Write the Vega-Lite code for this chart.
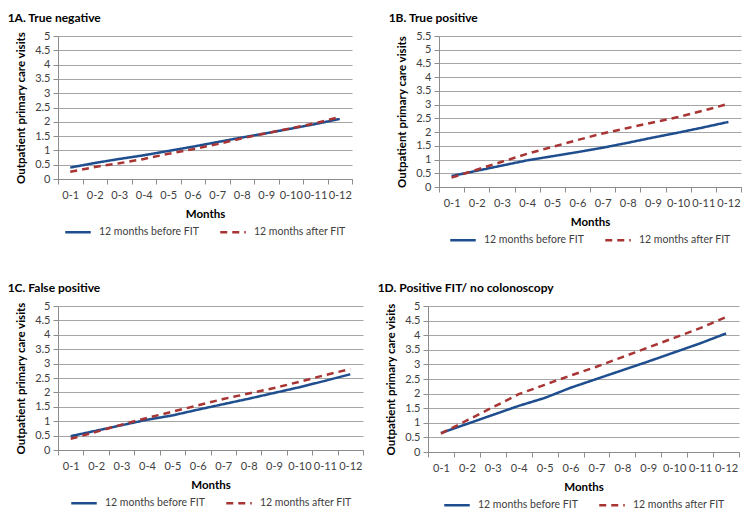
{
  "$schema": "https://vega.github.io/schema/vega-lite/v6.json",
  "padding": {"left": 7, "top": 12, "right": 4, "bottom": 4},
  "datasets": {
    "visits": [
      {"panel": "A", "month": "0-1", "series": "12 months before FIT", "visits": 0.40},
      {"panel": "A", "month": "0-2", "series": "12 months before FIT", "visits": 0.56},
      {"panel": "A", "month": "0-3", "series": "12 months before FIT", "visits": 0.70},
      {"panel": "A", "month": "0-4", "series": "12 months before FIT", "visits": 0.83},
      {"panel": "A", "month": "0-5", "series": "12 months before FIT", "visits": 0.98},
      {"panel": "A", "month": "0-6", "series": "12 months before FIT", "visits": 1.13},
      {"panel": "A", "month": "0-7", "series": "12 months before FIT", "visits": 1.29},
      {"panel": "A", "month": "0-8", "series": "12 months before FIT", "visits": 1.45},
      {"panel": "A", "month": "0-9", "series": "12 months before FIT", "visits": 1.60},
      {"panel": "A", "month": "0-10", "series": "12 months before FIT", "visits": 1.76},
      {"panel": "A", "month": "0-11", "series": "12 months before FIT", "visits": 1.92},
      {"panel": "A", "month": "0-12", "series": "12 months before FIT", "visits": 2.10},
      {"panel": "A", "month": "0-1", "series": "12 months after FIT", "visits": 0.25},
      {"panel": "A", "month": "0-2", "series": "12 months after FIT", "visits": 0.42},
      {"panel": "A", "month": "0-3", "series": "12 months after FIT", "visits": 0.55},
      {"panel": "A", "month": "0-4", "series": "12 months after FIT", "visits": 0.70},
      {"panel": "A", "month": "0-5", "series": "12 months after FIT", "visits": 0.88},
      {"panel": "A", "month": "0-6", "series": "12 months after FIT", "visits": 1.04},
      {"panel": "A", "month": "0-7", "series": "12 months after FIT", "visits": 1.22},
      {"panel": "A", "month": "0-8", "series": "12 months after FIT", "visits": 1.42},
      {"panel": "A", "month": "0-9", "series": "12 months after FIT", "visits": 1.60},
      {"panel": "A", "month": "0-10", "series": "12 months after FIT", "visits": 1.77},
      {"panel": "A", "month": "0-11", "series": "12 months after FIT", "visits": 1.95},
      {"panel": "A", "month": "0-12", "series": "12 months after FIT", "visits": 2.17},
      {"panel": "B", "month": "0-1", "series": "12 months before FIT", "visits": 0.40},
      {"panel": "B", "month": "0-2", "series": "12 months before FIT", "visits": 0.59},
      {"panel": "B", "month": "0-3", "series": "12 months before FIT", "visits": 0.78},
      {"panel": "B", "month": "0-4", "series": "12 months before FIT", "visits": 0.97},
      {"panel": "B", "month": "0-5", "series": "12 months before FIT", "visits": 1.12},
      {"panel": "B", "month": "0-6", "series": "12 months before FIT", "visits": 1.27},
      {"panel": "B", "month": "0-7", "series": "12 months before FIT", "visits": 1.43},
      {"panel": "B", "month": "0-8", "series": "12 months before FIT", "visits": 1.61},
      {"panel": "B", "month": "0-9", "series": "12 months before FIT", "visits": 1.80},
      {"panel": "B", "month": "0-10", "series": "12 months before FIT", "visits": 1.98},
      {"panel": "B", "month": "0-11", "series": "12 months before FIT", "visits": 2.17},
      {"panel": "B", "month": "0-12", "series": "12 months before FIT", "visits": 2.37},
      {"panel": "B", "month": "0-1", "series": "12 months after FIT", "visits": 0.34},
      {"panel": "B", "month": "0-2", "series": "12 months after FIT", "visits": 0.63},
      {"panel": "B", "month": "0-3", "series": "12 months after FIT", "visits": 0.92},
      {"panel": "B", "month": "0-4", "series": "12 months after FIT", "visits": 1.21},
      {"panel": "B", "month": "0-5", "series": "12 months after FIT", "visits": 1.46},
      {"panel": "B", "month": "0-6", "series": "12 months after FIT", "visits": 1.71},
      {"panel": "B", "month": "0-7", "series": "12 months after FIT", "visits": 1.95},
      {"panel": "B", "month": "0-8", "series": "12 months after FIT", "visits": 2.15},
      {"panel": "B", "month": "0-9", "series": "12 months after FIT", "visits": 2.35},
      {"panel": "B", "month": "0-10", "series": "12 months after FIT", "visits": 2.55},
      {"panel": "B", "month": "0-11", "series": "12 months after FIT", "visits": 2.78},
      {"panel": "B", "month": "0-12", "series": "12 months after FIT", "visits": 3.03},
      {"panel": "C", "month": "0-1", "series": "12 months before FIT", "visits": 0.48},
      {"panel": "C", "month": "0-2", "series": "12 months before FIT", "visits": 0.67},
      {"panel": "C", "month": "0-3", "series": "12 months before FIT", "visits": 0.86},
      {"panel": "C", "month": "0-4", "series": "12 months before FIT", "visits": 1.05},
      {"panel": "C", "month": "0-5", "series": "12 months before FIT", "visits": 1.20},
      {"panel": "C", "month": "0-6", "series": "12 months before FIT", "visits": 1.40},
      {"panel": "C", "month": "0-7", "series": "12 months before FIT", "visits": 1.59},
      {"panel": "C", "month": "0-8", "series": "12 months before FIT", "visits": 1.78},
      {"panel": "C", "month": "0-9", "series": "12 months before FIT", "visits": 1.98},
      {"panel": "C", "month": "0-10", "series": "12 months before FIT", "visits": 2.18},
      {"panel": "C", "month": "0-11", "series": "12 months before FIT", "visits": 2.40},
      {"panel": "C", "month": "0-12", "series": "12 months before FIT", "visits": 2.63},
      {"panel": "C", "month": "0-1", "series": "12 months after FIT", "visits": 0.39},
      {"panel": "C", "month": "0-2", "series": "12 months after FIT", "visits": 0.63},
      {"panel": "C", "month": "0-3", "series": "12 months after FIT", "visits": 0.88},
      {"panel": "C", "month": "0-4", "series": "12 months after FIT", "visits": 1.11},
      {"panel": "C", "month": "0-5", "series": "12 months after FIT", "visits": 1.33},
      {"panel": "C", "month": "0-6", "series": "12 months after FIT", "visits": 1.55},
      {"panel": "C", "month": "0-7", "series": "12 months after FIT", "visits": 1.77},
      {"panel": "C", "month": "0-8", "series": "12 months after FIT", "visits": 1.96},
      {"panel": "C", "month": "0-9", "series": "12 months after FIT", "visits": 2.15},
      {"panel": "C", "month": "0-10", "series": "12 months after FIT", "visits": 2.37},
      {"panel": "C", "month": "0-11", "series": "12 months after FIT", "visits": 2.60},
      {"panel": "C", "month": "0-12", "series": "12 months after FIT", "visits": 2.81},
      {"panel": "D", "month": "0-1", "series": "12 months before FIT", "visits": 0.65},
      {"panel": "D", "month": "0-2", "series": "12 months before FIT", "visits": 0.96},
      {"panel": "D", "month": "0-3", "series": "12 months before FIT", "visits": 1.27},
      {"panel": "D", "month": "0-4", "series": "12 months before FIT", "visits": 1.58},
      {"panel": "D", "month": "0-5", "series": "12 months before FIT", "visits": 1.85},
      {"panel": "D", "month": "0-6", "series": "12 months before FIT", "visits": 2.20},
      {"panel": "D", "month": "0-7", "series": "12 months before FIT", "visits": 2.50},
      {"panel": "D", "month": "0-8", "series": "12 months before FIT", "visits": 2.80},
      {"panel": "D", "month": "0-9", "series": "12 months before FIT", "visits": 3.10},
      {"panel": "D", "month": "0-10", "series": "12 months before FIT", "visits": 3.41},
      {"panel": "D", "month": "0-11", "series": "12 months before FIT", "visits": 3.72},
      {"panel": "D", "month": "0-12", "series": "12 months before FIT", "visits": 4.06},
      {"panel": "D", "month": "0-1", "series": "12 months after FIT", "visits": 0.63},
      {"panel": "D", "month": "0-2", "series": "12 months after FIT", "visits": 1.08},
      {"panel": "D", "month": "0-3", "series": "12 months after FIT", "visits": 1.53},
      {"panel": "D", "month": "0-4", "series": "12 months after FIT", "visits": 1.98},
      {"panel": "D", "month": "0-5", "series": "12 months after FIT", "visits": 2.30},
      {"panel": "D", "month": "0-6", "series": "12 months after FIT", "visits": 2.62},
      {"panel": "D", "month": "0-7", "series": "12 months after FIT", "visits": 2.92},
      {"panel": "D", "month": "0-8", "series": "12 months after FIT", "visits": 3.25},
      {"panel": "D", "month": "0-9", "series": "12 months after FIT", "visits": 3.58},
      {"panel": "D", "month": "0-10", "series": "12 months after FIT", "visits": 3.91},
      {"panel": "D", "month": "0-11", "series": "12 months after FIT", "visits": 4.24},
      {"panel": "D", "month": "0-12", "series": "12 months after FIT", "visits": 4.62}
    ]
  },
  "spacing": 36,
  "vconcat": [
    {
      "spacing": 35,
      "hconcat": [
        {
          "title": {"text": "1A. True negative"},
          "width": 294,
          "height": 143,
          "data": {"name": "visits"},
          "transform": [{"filter": "datum.panel === 'A'"}],
          "mark": {"type": "line", "strokeWidth": 2.5},
          "encoding": {
            "x": {"field": "month", "type": "ordinal", "sort": null, "bandPosition": 0.5, "scale": {"type": "band", "paddingInner": 0, "paddingOuter": 0}, "title": "Months"},
            "y": {"field": "visits", "type": "quantitative", "scale": {"domain": [0, 5]}, "axis": {"values": [0, 0.5, 1, 1.5, 2, 2.5, 3, 3.5, 4, 4.5, 5]}, "title": "Outpatient primary care visits"},
            "color": {"field": "series", "type": "nominal", "scale": {"domain": ["12 months before FIT", "12 months after FIT"], "range": ["#1f4e8f", "#a83434"]}},
            "strokeDash": {"field": "series", "type": "nominal", "scale": {"domain": ["12 months before FIT", "12 months after FIT"], "range": [[1, 0], [7, 5]]}}
          }
        },
        {
          "title": {"text": "1B. True positive"},
          "width": 302,
          "height": 151,
          "data": {"name": "visits"},
          "transform": [{"filter": "datum.panel === 'B'"}],
          "mark": {"type": "line", "strokeWidth": 2.5},
          "encoding": {
            "x": {"field": "month", "type": "ordinal", "sort": null, "bandPosition": 0.5, "scale": {"type": "band", "paddingInner": 0, "paddingOuter": 0}, "title": "Months"},
            "y": {"field": "visits", "type": "quantitative", "scale": {"domain": [0, 5.5]}, "axis": {"values": [0, 0.5, 1, 1.5, 2, 2.5, 3, 3.5, 4, 4.5, 5, 5.5]}, "title": "Outpatient primary care visits"},
            "color": {"field": "series", "type": "nominal", "scale": {"domain": ["12 months before FIT", "12 months after FIT"], "range": ["#1f4e8f", "#a83434"]}},
            "strokeDash": {"field": "series", "type": "nominal", "scale": {"domain": ["12 months before FIT", "12 months after FIT"], "range": [[1, 0], [7, 5]]}}
          }
        }
      ],
      "resolve": {
        "scale": {"x": "independent", "y": "independent", "color": "independent", "strokeDash": "independent"},
        "legend": {"color": "independent", "strokeDash": "independent"}
      }
    },
    {
      "spacing": 13,
      "hconcat": [
        {
          "title": {"text": "1C. False positive"},
          "width": 305,
          "height": 144,
          "data": {"name": "visits"},
          "transform": [{"filter": "datum.panel === 'C'"}],
          "mark": {"type": "line", "strokeWidth": 2.5},
          "encoding": {
            "x": {"field": "month", "type": "ordinal", "sort": null, "bandPosition": 0.5, "scale": {"type": "band", "paddingInner": 0, "paddingOuter": 0}, "title": "Months"},
            "y": {"field": "visits", "type": "quantitative", "scale": {"domain": [0, 5]}, "axis": {"values": [0, 0.5, 1, 1.5, 2, 2.5, 3, 3.5, 4, 4.5, 5]}, "title": "Outpatient primary care visits"},
            "color": {"field": "series", "type": "nominal", "scale": {"domain": ["12 months before FIT", "12 months after FIT"], "range": ["#1f4e8f", "#a83434"]}},
            "strokeDash": {"field": "series", "type": "nominal", "scale": {"domain": ["12 months before FIT", "12 months after FIT"], "range": [[1, 0], [7, 5]]}}
          }
        },
        {
          "title": {"text": "1D. Positive FIT/ no colonoscopy"},
          "width": 311,
          "height": 146,
          "data": {"name": "visits"},
          "transform": [{"filter": "datum.panel === 'D'"}],
          "mark": {"type": "line", "strokeWidth": 2.5},
          "encoding": {
            "x": {"field": "month", "type": "ordinal", "sort": null, "bandPosition": 0.5, "scale": {"type": "band", "paddingInner": 0, "paddingOuter": 0}, "title": "Months"},
            "y": {"field": "visits", "type": "quantitative", "scale": {"domain": [0, 5]}, "axis": {"values": [0, 0.5, 1, 1.5, 2, 2.5, 3, 3.5, 4, 4.5, 5]}, "title": "Outpatient primary care visits"},
            "color": {"field": "series", "type": "nominal", "scale": {"domain": ["12 months before FIT", "12 months after FIT"], "range": ["#1f4e8f", "#a83434"]}},
            "strokeDash": {"field": "series", "type": "nominal", "scale": {"domain": ["12 months before FIT", "12 months after FIT"], "range": [[1, 0], [7, 5]]}}
          }
        }
      ],
      "resolve": {
        "scale": {"x": "independent", "y": "independent", "color": "independent", "strokeDash": "independent"},
        "legend": {"color": "independent", "strokeDash": "independent"}
      }
    }
  ],
  "resolve": {
    "scale": {"x": "independent", "y": "independent", "color": "independent", "strokeDash": "independent"},
    "legend": {"color": "independent", "strokeDash": "independent"}
  },
  "config": {
    "font": "Lato",
    "view": {"stroke": null},
    "title": {"anchor": "start", "frame": "bounds", "fontSize": 12, "fontWeight": "bold", "color": "#000000", "dx": -8, "offset": 5},
    "axis": {
      "labelColor": "#404040",
      "labelFontSize": 11,
      "titleFontSize": 11.5,
      "titleFontWeight": "bold",
      "titleColor": "#000000",
      "domainColor": "#8c8c8c",
      "tickColor": "#8c8c8c",
      "gridColor": "#a6a6a6",
      "tickSize": 5
    },
    "axisX": {"labelAngle": 0, "grid": false, "tickBand": "extent", "labelPadding": 5, "titlePadding": 8},
    "axisY": {"grid": true, "format": "~g", "labelPadding": 3, "titlePadding": 8},
    "legend": {
      "orient": "bottom",
      "direction": "horizontal",
      "title": null,
      "offset": -2,
      "symbolType": "stroke",
      "symbolSize": 650,
      "symbolStrokeWidth": 2.5,
      "labelFontSize": 10.5,
      "labelOffset": 7,
      "labelColor": "#404040",
      "labelLimit": 200,
      "columnPadding": 16,
      "layout": {"bottom": {"anchor": "middle"}}
    }
  }
}
